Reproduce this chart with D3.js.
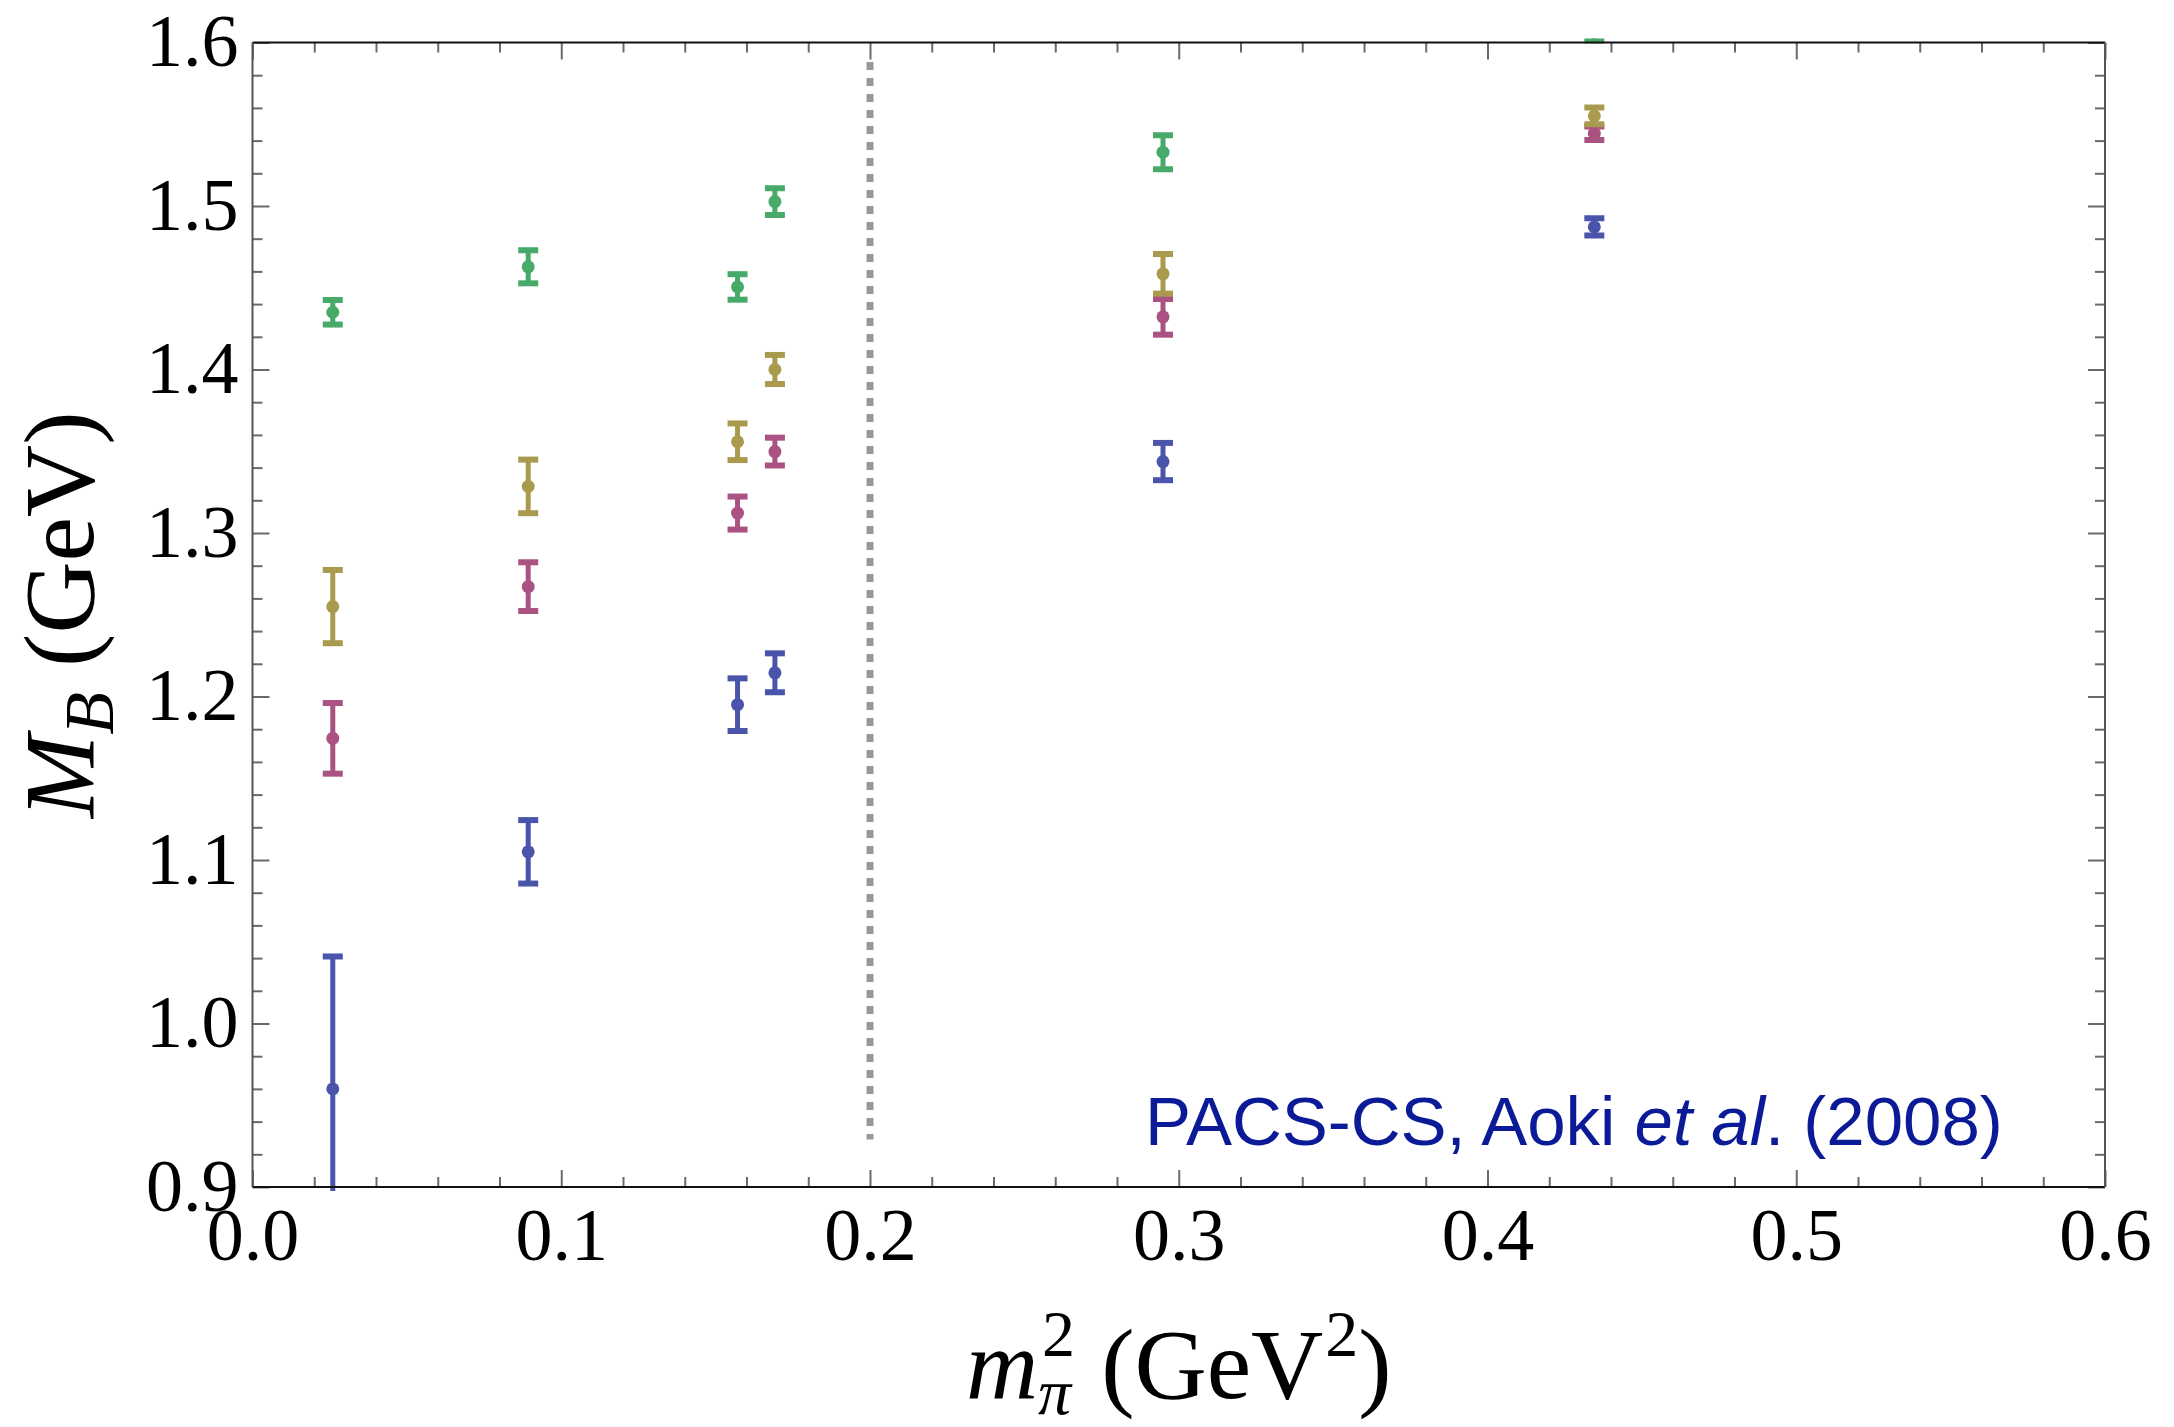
<!DOCTYPE html>
<html><head><meta charset="utf-8">
<script src="https://cdn.jsdelivr.net/npm/d3@7"></script>
<style>body{margin:0;background:#fff;} svg{display:block;}</style>
</head><body><svg id="c" width="2174" height="1427"></svg>
<script>
// ---- data ----
const mpi2 = [0.026, 0.0893, 0.1571, 0.1692, 0.2949, 0.4346];
const seriesNames = ["Δ", "Σ*", "Ξ*", "Ω"];
const massDelta = [0.960, 1.105, 1.195, 1.2145, 1.3437, 1.4872];
const errDelta  = [0.081, 0.0194, 0.0161, 0.0119, 0.0114, 0.0053];
const massSigma = [1.1744, 1.2672, 1.3122, 1.3498, 1.4322, 1.5445];
const errSigma  = [0.0216, 0.0149, 0.0101, 0.0085, 0.0109, 0.0041];
const massXi    = [1.255, 1.3285, 1.3558, 1.4000, 1.4585, 1.5551];
const errXi     = [0.0224, 0.0164, 0.0112, 0.0089, 0.0121, 0.0051];
const massOmega = [1.435, 1.4628, 1.4505, 1.5027, 1.5329, 1.611];
const errOmega  = [0.0075, 0.0101, 0.0078, 0.0082, 0.0104, 0.0098];
const seriesColors = ["#4b54ab", "#aa5282", "#a99a4d", "#47aa69"];
const xTickVals = [0, 0.1, 0.2, 0.3, 0.4, 0.5, 0.6];
const xTickLabels = ["0.0", "0.1", "0.2", "0.3", "0.4", "0.5", "0.6"];
const yTickVals = [0.9, 1.0, 1.1, 1.2, 1.3, 1.4, 1.5, 1.6];
const yTickLabels = ["0.9", "1.0", "1.1", "1.2", "1.3", "1.4", "1.5", "1.6"];
const dividerX = 0.2;
const dividerY = [0.929, 1.588];

// ---- layout ----
const W = 2174, H = 1427;
const m = {left: 252.5, right: 2105, top: 42.5, bottom: 1187};
const x = d3.scaleLinear().domain([0, 0.6]).range([m.left, m.right]);
const y = d3.scaleLinear().domain([0.9, 1.6]).range([m.bottom, m.top]);
const serif = "'Liberation Serif','Times New Roman',Times,serif";
const sans = "'Liberation Sans',Arial,Helvetica,sans-serif";

const svg = d3.select('#c');
svg.append('rect').attr('width', W).attr('height', H).attr('fill', '#fff');

const minorX = d3.range(0, 0.6001, 0.02).filter(v => Math.abs(v*10 - Math.round(v*10)) > 1e-6);
const minorY = d3.range(0.9, 1.6001, 0.02).filter(v => Math.abs(v*10 - Math.round(v*10)) > 1e-6);

function styleTicks(g){
  g.select('.domain').remove();
  g.selectAll('line').attr('stroke', '#6a6a6a').attr('stroke-width', 2);
}
// bottom
const gb = svg.append('g').attr('transform', `translate(0,${m.bottom})`)
  .call(d3.axisBottom(x).tickValues(xTickVals).tickSize(-17).tickFormat((d,i)=>xTickLabels[i]));
styleTicks(gb);
gb.selectAll('text').attr('y', 73).attr('dy', 0).attr('fill', '#000')
  .style('font-family', serif).style('font-size', '74px');
svg.append('g').attr('transform', `translate(0,${m.bottom})`)
  .call(d3.axisBottom(x).tickValues(minorX).tickSize(-10).tickFormat('')).call(styleTicks);
// top
svg.append('g').attr('transform', `translate(0,${m.top})`)
  .call(d3.axisTop(x).tickValues(xTickVals).tickSize(-17).tickFormat('')).call(styleTicks);
svg.append('g').attr('transform', `translate(0,${m.top})`)
  .call(d3.axisTop(x).tickValues(minorX).tickSize(-10).tickFormat('')).call(styleTicks);
// left
const gl = svg.append('g').attr('transform', `translate(${m.left},0)`)
  .call(d3.axisLeft(y).tickValues(yTickVals).tickSize(-17).tickFormat((d,i)=>yTickLabels[i]));
styleTicks(gl);
gl.selectAll('text').attr('x', -14).attr('y', 23).attr('dy', 0).attr('fill', '#000')
  .style('font-family', serif).style('font-size', '74px');
svg.append('g').attr('transform', `translate(${m.left},0)`)
  .call(d3.axisLeft(y).tickValues(minorY).tickSize(-10).tickFormat('')).call(styleTicks);
// right
svg.append('g').attr('transform', `translate(${m.right},0)`)
  .call(d3.axisRight(y).tickValues(yTickVals).tickSize(-17).tickFormat('')).call(styleTicks);
svg.append('g').attr('transform', `translate(${m.right},0)`)
  .call(d3.axisRight(y).tickValues(minorY).tickSize(-10).tickFormat('')).call(styleTicks);

// divider
svg.append('line').attr('x1', x(dividerX)).attr('x2', x(dividerX))
  .attr('y1', y(dividerY[1])).attr('y2', y(dividerY[0]))
  .attr('stroke', '#999').attr('stroke-width', 7).attr('stroke-dasharray', '8 8');

// data
svg.append('clipPath').attr('id', 'clip').append('rect')
  .attr('x', m.left).attr('y', m.top - 4).attr('width', m.right - m.left).attr('height', m.bottom - m.top + 8);
const series = [
  {name: seriesNames[0], v: massDelta, e: errDelta, c: seriesColors[0]},
  {name: seriesNames[1], v: massSigma, e: errSigma, c: seriesColors[1]},
  {name: seriesNames[2], v: massXi, e: errXi, c: seriesColors[2]},
  {name: seriesNames[3], v: massOmega, e: errOmega, c: seriesColors[3]}
];
const gd = svg.append('g').attr('clip-path', 'url(#clip)');
series.forEach(s => {
  const pts = mpi2.map((xv, i) => ({x: xv, v: s.v[i], e: s.e[i]}));
  const g = gd.append('g').attr('class', 'series');
  const pg = g.selectAll('g').data(pts).join('g');
  pg.append('line').attr('x1', d => x(d.x)).attr('x2', d => x(d.x))
    .attr('y1', d => y(d.v - d.e)).attr('y2', d => y(d.v + d.e))
    .attr('stroke', s.c).attr('stroke-width', 5);
  [-1, 1].forEach(sg => {
    pg.append('line').attr('x1', d => x(d.x) - 10).attr('x2', d => x(d.x) + 10)
      .attr('y1', d => y(d.v + sg*d.e)).attr('y2', d => y(d.v + sg*d.e))
      .attr('stroke', s.c).attr('stroke-width', 6);
  });
  pg.append('circle').attr('cx', d => x(d.x)).attr('cy', d => y(d.v)).attr('r', 6.5).attr('fill', s.c);
});

// frame
svg.append('line').attr('x1', m.left).attr('x2', m.right).attr('y1', m.top).attr('y2', m.top).attr('stroke', '#111').attr('stroke-width', 2);
svg.append('line').attr('x1', m.left).attr('x2', m.right).attr('y1', m.bottom).attr('y2', m.bottom).attr('stroke', '#111').attr('stroke-width', 2);
svg.append('line').attr('x1', m.left).attr('x2', m.left).attr('y1', m.top).attr('y2', m.bottom).attr('stroke', '#555').attr('stroke-width', 2);
svg.append('line').attr('x1', m.right).attr('x2', m.right).attr('y1', m.top).attr('y2', m.bottom).attr('stroke', '#555').attr('stroke-width', 2);

// annotation
const ann = svg.append('text').attr('x', 1145).attr('y', 1145).attr('fill', '#0b1a96')
  .style('font-family', sans).style('font-size', '69px');
ann.append('tspan').text('PACS-CS, Aoki ');
ann.append('tspan').style('font-style', 'italic').text('et al');
ann.append('tspan').text('. (2008)');

// x label: m_π^2 (GeV^2)
(function(){
  const base = 1398, fs = 100, fsS = 66;
  const g = svg.append('g');
  const tm = g.append('text').style('font-family', serif).style('font-size', fs+'px').style('font-style','italic').attr('y', base).text('m');
  const wm = tm.node().getComputedTextLength();
  const tsup = g.append('text').style('font-family', serif).style('font-size', fsS+'px').attr('y', base - 42).text('2');
  const tsub = g.append('text').style('font-family', serif).style('font-size', fsS+'px').style('font-style','italic').attr('y', base + 16).text('π');
  const ws = Math.max(tsup.node().getComputedTextLength(), tsub.node().getComputedTextLength());
  const tg = g.append('text').style('font-family', serif).style('font-size', fs+'px').attr('y', base).text('(GeV');
  const wg = tg.node().getComputedTextLength();
  const tsup2 = g.append('text').style('font-family', serif).style('font-size', fsS+'px').attr('y', base - 42).text('2');
  const w2 = tsup2.node().getComputedTextLength();
  const tp = g.append('text').style('font-family', serif).style('font-size', fs+'px').attr('y', base).text(')');
  const wp = tp.node().getComputedTextLength();
  const gap1 = 4, gap2 = 26, gap3 = 2;
  const total = wm + gap1 + ws + gap2 + wg + gap3 + w2 + wp;
  let x0 = (m.left + m.right)/2 - total/2;
  tm.attr('x', x0); x0 += wm + gap1;
  tsup.attr('x', x0); tsub.attr('x', x0 - 4); x0 += ws + gap2;
  tg.attr('x', x0); x0 += wg + gap3;
  tsup2.attr('x', x0); x0 += w2;
  tp.attr('x', x0);
})();

// y label: M_B (GeV)
(function(){
  const yl = svg.append('text').attr('transform', `translate(93,${(m.top+m.bottom)/2}) rotate(-90)`)
    .attr('text-anchor', 'middle').style('font-family', serif).style('font-size', '100px').attr('fill', '#000');
  yl.append('tspan').style('font-style', 'italic').text('M');
  yl.append('tspan').style('font-style', 'italic').style('font-size', '70px').attr('dy', 20).text('B');
  yl.append('tspan').attr('dy', -20).text('\u00a0(GeV)');
})();
</script>
</body></html>
